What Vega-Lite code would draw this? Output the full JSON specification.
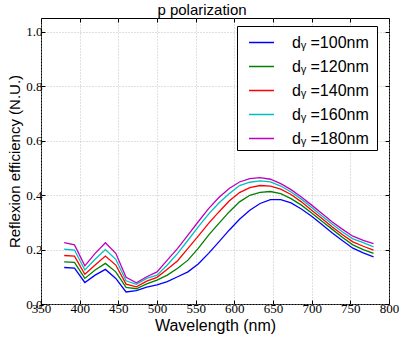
{
  "$schema": "https://vega.github.io/schema/vega-lite/v6.json",
  "autosize": "none",
  "padding": {"left": 41, "top": 18, "right": 10, "bottom": 36},
  "width": 348,
  "height": 286,
  "background": "white",
  "title": {"text": "p polarization", "font": "Liberation Sans", "fontSize": 15, "fontWeight": "normal", "color": "black", "anchor": "middle", "dx": -13, "offset": 0},
  "config": {
    "view": {"stroke": "black", "strokeWidth": 1},
    "axis": {"gridColor": "#b0b0b0", "gridDash": [1, 2], "gridWidth": 0.8, "gridOpacity": 1, "domain": false, "tickColor": "black", "tickSize": -4, "labelFont": "Liberation Serif", "labelFontSize": 13, "labelColor": "black", "titleFont": "Liberation Sans", "titleFontWeight": "normal", "titleColor": "black"}
  },
  "data": {"values": [
    {"wl": 380, "s": "dᵧ  =100nm", "r": 0.134}, {"wl": 393.3, "s": "dᵧ  =100nm", "r": 0.132}, {"wl": 406.7, "s": "dᵧ  =100nm", "r": 0.079}, {"wl": 420, "s": "dᵧ  =100nm", "r": 0.106}, {"wl": 433.3, "s": "dᵧ  =100nm", "r": 0.127}, {"wl": 446.7, "s": "dᵧ  =100nm", "r": 0.094}, {"wl": 460, "s": "dᵧ  =100nm", "r": 0.044}, {"wl": 473.3, "s": "dᵧ  =100nm", "r": 0.049}, {"wl": 486.7, "s": "dᵧ  =100nm", "r": 0.062}, {"wl": 500, "s": "dᵧ  =100nm", "r": 0.070}, {"wl": 513.3, "s": "dᵧ  =100nm", "r": 0.082}, {"wl": 526.7, "s": "dᵧ  =100nm", "r": 0.100}, {"wl": 540, "s": "dᵧ  =100nm", "r": 0.118}, {"wl": 553.3, "s": "dᵧ  =100nm", "r": 0.147}, {"wl": 566.7, "s": "dᵧ  =100nm", "r": 0.186}, {"wl": 580, "s": "dᵧ  =100nm", "r": 0.228}, {"wl": 593.3, "s": "dᵧ  =100nm", "r": 0.271}, {"wl": 606.7, "s": "dᵧ  =100nm", "r": 0.311}, {"wl": 620, "s": "dᵧ  =100nm", "r": 0.344}, {"wl": 633.3, "s": "dᵧ  =100nm", "r": 0.369}, {"wl": 646.7, "s": "dᵧ  =100nm", "r": 0.383}, {"wl": 660, "s": "dᵧ  =100nm", "r": 0.383}, {"wl": 673.3, "s": "dᵧ  =100nm", "r": 0.371}, {"wl": 686.7, "s": "dᵧ  =100nm", "r": 0.349}, {"wl": 700, "s": "dᵧ  =100nm", "r": 0.322}, {"wl": 713.3, "s": "dᵧ  =100nm", "r": 0.292}, {"wl": 726.7, "s": "dᵧ  =100nm", "r": 0.261}, {"wl": 740, "s": "dᵧ  =100nm", "r": 0.232}, {"wl": 753.3, "s": "dᵧ  =100nm", "r": 0.205}, {"wl": 766.7, "s": "dᵧ  =100nm", "r": 0.188}, {"wl": 780, "s": "dᵧ  =100nm", "r": 0.173},
    {"wl": 380, "s": "dᵧ  =120nm", "r": 0.155}, {"wl": 393.3, "s": "dᵧ  =120nm", "r": 0.153}, {"wl": 406.7, "s": "dᵧ  =120nm", "r": 0.094}, {"wl": 420, "s": "dᵧ  =120nm", "r": 0.125}, {"wl": 433.3, "s": "dᵧ  =120nm", "r": 0.149}, {"wl": 446.7, "s": "dᵧ  =120nm", "r": 0.118}, {"wl": 460, "s": "dᵧ  =120nm", "r": 0.061}, {"wl": 473.3, "s": "dᵧ  =120nm", "r": 0.056}, {"wl": 486.7, "s": "dᵧ  =120nm", "r": 0.074}, {"wl": 500, "s": "dᵧ  =120nm", "r": 0.088}, {"wl": 513.3, "s": "dᵧ  =120nm", "r": 0.106}, {"wl": 526.7, "s": "dᵧ  =120nm", "r": 0.131}, {"wl": 540, "s": "dᵧ  =120nm", "r": 0.161}, {"wl": 553.3, "s": "dᵧ  =120nm", "r": 0.204}, {"wl": 566.7, "s": "dᵧ  =120nm", "r": 0.253}, {"wl": 580, "s": "dᵧ  =120nm", "r": 0.296}, {"wl": 593.3, "s": "dᵧ  =120nm", "r": 0.338}, {"wl": 606.7, "s": "dᵧ  =120nm", "r": 0.375}, {"wl": 620, "s": "dᵧ  =120nm", "r": 0.399}, {"wl": 633.3, "s": "dᵧ  =120nm", "r": 0.410}, {"wl": 646.7, "s": "dᵧ  =120nm", "r": 0.413}, {"wl": 660, "s": "dᵧ  =120nm", "r": 0.405}, {"wl": 673.3, "s": "dᵧ  =120nm", "r": 0.387}, {"wl": 686.7, "s": "dᵧ  =120nm", "r": 0.363}, {"wl": 700, "s": "dᵧ  =120nm", "r": 0.334}, {"wl": 713.3, "s": "dᵧ  =120nm", "r": 0.304}, {"wl": 726.7, "s": "dᵧ  =120nm", "r": 0.274}, {"wl": 740, "s": "dᵧ  =120nm", "r": 0.244}, {"wl": 753.3, "s": "dᵧ  =120nm", "r": 0.217}, {"wl": 766.7, "s": "dᵧ  =120nm", "r": 0.200}, {"wl": 780, "s": "dᵧ  =120nm", "r": 0.186},
    {"wl": 380, "s": "dᵧ  =140nm", "r": 0.178}, {"wl": 393.3, "s": "dᵧ  =140nm", "r": 0.176}, {"wl": 406.7, "s": "dᵧ  =140nm", "r": 0.109}, {"wl": 420, "s": "dᵧ  =140nm", "r": 0.143}, {"wl": 433.3, "s": "dᵧ  =140nm", "r": 0.176}, {"wl": 446.7, "s": "dᵧ  =140nm", "r": 0.143}, {"wl": 460, "s": "dᵧ  =140nm", "r": 0.073}, {"wl": 473.3, "s": "dᵧ  =140nm", "r": 0.063}, {"wl": 486.7, "s": "dᵧ  =140nm", "r": 0.084}, {"wl": 500, "s": "dᵧ  =140nm", "r": 0.098}, {"wl": 513.3, "s": "dᵧ  =140nm", "r": 0.128}, {"wl": 526.7, "s": "dᵧ  =140nm", "r": 0.159}, {"wl": 540, "s": "dᵧ  =140nm", "r": 0.204}, {"wl": 553.3, "s": "dᵧ  =140nm", "r": 0.249}, {"wl": 566.7, "s": "dᵧ  =140nm", "r": 0.296}, {"wl": 580, "s": "dᵧ  =140nm", "r": 0.338}, {"wl": 593.3, "s": "dᵧ  =140nm", "r": 0.378}, {"wl": 606.7, "s": "dᵧ  =140nm", "r": 0.409}, {"wl": 620, "s": "dᵧ  =140nm", "r": 0.427}, {"wl": 633.3, "s": "dᵧ  =140nm", "r": 0.435}, {"wl": 646.7, "s": "dᵧ  =140nm", "r": 0.433}, {"wl": 660, "s": "dᵧ  =140nm", "r": 0.422}, {"wl": 673.3, "s": "dᵧ  =140nm", "r": 0.402}, {"wl": 686.7, "s": "dᵧ  =140nm", "r": 0.375}, {"wl": 700, "s": "dᵧ  =140nm", "r": 0.344}, {"wl": 713.3, "s": "dᵧ  =140nm", "r": 0.314}, {"wl": 726.7, "s": "dᵧ  =140nm", "r": 0.283}, {"wl": 740, "s": "dᵧ  =140nm", "r": 0.254}, {"wl": 753.3, "s": "dᵧ  =140nm", "r": 0.228}, {"wl": 766.7, "s": "dᵧ  =140nm", "r": 0.212}, {"wl": 780, "s": "dᵧ  =140nm", "r": 0.198},
    {"wl": 380, "s": "dᵧ  =160nm", "r": 0.201}, {"wl": 393.3, "s": "dᵧ  =160nm", "r": 0.198}, {"wl": 406.7, "s": "dᵧ  =160nm", "r": 0.125}, {"wl": 420, "s": "dᵧ  =160nm", "r": 0.164}, {"wl": 433.3, "s": "dᵧ  =160nm", "r": 0.200}, {"wl": 446.7, "s": "dᵧ  =160nm", "r": 0.164}, {"wl": 460, "s": "dᵧ  =160nm", "r": 0.085}, {"wl": 473.3, "s": "dᵧ  =160nm", "r": 0.072}, {"wl": 486.7, "s": "dᵧ  =160nm", "r": 0.094}, {"wl": 500, "s": "dᵧ  =160nm", "r": 0.106}, {"wl": 513.3, "s": "dᵧ  =160nm", "r": 0.143}, {"wl": 526.7, "s": "dᵧ  =160nm", "r": 0.186}, {"wl": 540, "s": "dᵧ  =160nm", "r": 0.234}, {"wl": 553.3, "s": "dᵧ  =160nm", "r": 0.283}, {"wl": 566.7, "s": "dᵧ  =160nm", "r": 0.330}, {"wl": 580, "s": "dᵧ  =160nm", "r": 0.371}, {"wl": 593.3, "s": "dᵧ  =160nm", "r": 0.405}, {"wl": 606.7, "s": "dᵧ  =160nm", "r": 0.435}, {"wl": 620, "s": "dᵧ  =160nm", "r": 0.447}, {"wl": 633.3, "s": "dᵧ  =160nm", "r": 0.452}, {"wl": 646.7, "s": "dᵧ  =160nm", "r": 0.448}, {"wl": 660, "s": "dᵧ  =160nm", "r": 0.433}, {"wl": 673.3, "s": "dᵧ  =160nm", "r": 0.411}, {"wl": 686.7, "s": "dᵧ  =160nm", "r": 0.385}, {"wl": 700, "s": "dᵧ  =160nm", "r": 0.354}, {"wl": 713.3, "s": "dᵧ  =160nm", "r": 0.323}, {"wl": 726.7, "s": "dᵧ  =160nm", "r": 0.293}, {"wl": 740, "s": "dᵧ  =160nm", "r": 0.264}, {"wl": 753.3, "s": "dᵧ  =160nm", "r": 0.239}, {"wl": 766.7, "s": "dᵧ  =160nm", "r": 0.225}, {"wl": 780, "s": "dᵧ  =160nm", "r": 0.210},
    {"wl": 380, "s": "dᵧ  =180nm", "r": 0.225}, {"wl": 393.3, "s": "dᵧ  =180nm", "r": 0.217}, {"wl": 406.7, "s": "dᵧ  =180nm", "r": 0.140}, {"wl": 420, "s": "dᵧ  =180nm", "r": 0.186}, {"wl": 433.3, "s": "dᵧ  =180nm", "r": 0.225}, {"wl": 446.7, "s": "dᵧ  =180nm", "r": 0.186}, {"wl": 460, "s": "dᵧ  =180nm", "r": 0.098}, {"wl": 473.3, "s": "dᵧ  =180nm", "r": 0.078}, {"wl": 486.7, "s": "dᵧ  =180nm", "r": 0.100}, {"wl": 500, "s": "dᵧ  =180nm", "r": 0.118}, {"wl": 513.3, "s": "dᵧ  =180nm", "r": 0.161}, {"wl": 526.7, "s": "dᵧ  =180nm", "r": 0.204}, {"wl": 540, "s": "dᵧ  =180nm", "r": 0.253}, {"wl": 553.3, "s": "dᵧ  =180nm", "r": 0.302}, {"wl": 566.7, "s": "dᵧ  =180nm", "r": 0.350}, {"wl": 580, "s": "dᵧ  =180nm", "r": 0.391}, {"wl": 593.3, "s": "dᵧ  =180nm", "r": 0.424}, {"wl": 606.7, "s": "dᵧ  =180nm", "r": 0.448}, {"wl": 620, "s": "dᵧ  =180nm", "r": 0.460}, {"wl": 633.3, "s": "dᵧ  =180nm", "r": 0.464}, {"wl": 646.7, "s": "dᵧ  =180nm", "r": 0.458}, {"wl": 660, "s": "dᵧ  =180nm", "r": 0.442}, {"wl": 673.3, "s": "dᵧ  =180nm", "r": 0.420}, {"wl": 686.7, "s": "dᵧ  =180nm", "r": 0.393}, {"wl": 700, "s": "dᵧ  =180nm", "r": 0.363}, {"wl": 713.3, "s": "dᵧ  =180nm", "r": 0.332}, {"wl": 726.7, "s": "dᵧ  =180nm", "r": 0.301}, {"wl": 740, "s": "dᵧ  =180nm", "r": 0.274}, {"wl": 753.3, "s": "dᵧ  =180nm", "r": 0.249}, {"wl": 766.7, "s": "dᵧ  =180nm", "r": 0.234}, {"wl": 780, "s": "dᵧ  =180nm", "r": 0.222}
  ]},
  "layer": [
    {
      "mark": {"type": "line", "strokeWidth": 1.3},
      "encoding": {
        "x": {"field": "wl", "type": "quantitative", "scale": {"domain": [350, 800], "nice": false, "zero": false}, "axis": {"values": [350, 400, 450, 500, 550, 600, 650, 700, 750, 800], "title": "Wavelength (nm)", "titleFontSize": 16, "titlePadding": 2, "labelPadding": 2, "labelFlush": false}},
        "y": {"field": "r", "type": "quantitative", "scale": {"domain": [0, 1.05], "nice": false}, "axis": {"values": [0, 0.2, 0.4, 0.6, 0.8, 1.0], "format": ".1f", "title": "Reflexion efficiency (N.U.)", "titleFontSize": 15, "titlePadding": 3, "labelPadding": 3}},
        "color": {"field": "s", "type": "nominal", "scale": {"range": ["#0000ff", "#008000", "#ff0000", "#00bfbf", "#bf00bf"]}, "legend": {"title": null, "orient": "none", "legendX": 196, "legendY": 8, "symbolType": "stroke", "symbolSize": 625, "symbolStrokeWidth": 1.5, "labelFont": "Liberation Sans", "labelFontSize": 16, "labelColor": "black", "rowPadding": 2, "symbolOffset": 8, "labelOffset": 17, "padding": 3, "strokeColor": "black", "fillColor": "white", "cornerRadius": 0, "labelLimit": 200}}
      }
    },
    {
      "mark": {"type": "line", "opacity": 0},
      "encoding": {
        "x": {"field": "wl", "type": "quantitative", "axis": {"orient": "top", "values": [350, 400, 450, 500, 550, 600, 650, 700, 750, 800], "labels": false, "grid": false, "title": null}},
        "y": {"field": "r", "type": "quantitative", "axis": {"orient": "right", "values": [0, 0.2, 0.4, 0.6, 0.8, 1.0], "labels": false, "grid": false, "title": null}}
      }
    }
  ],
  "resolve": {"axis": {"x": "independent", "y": "independent"}}
}
